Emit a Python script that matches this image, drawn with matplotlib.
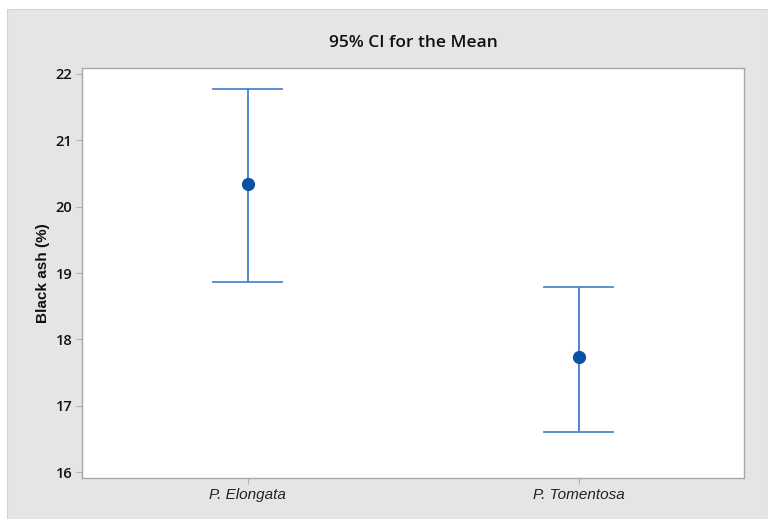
import matplotlib
matplotlib.use("Agg")
import matplotlib.pyplot as plt
from matplotlib.patches import Rectangle

groups = ["P. Elongata", "P. Tomentosa"]
means = [20.34, 17.73]
ci_lower = [18.86, 16.60]
ci_upper = [21.77, 18.79]
y_ticks = [16, 17, 18, 19, 20, 21, 22]

fig = plt.figure(figsize=(7.68, 5.19), dpi=100, facecolor="white")
W, H = 768, 519

# gray panel behind the plot area
fig.patches.append(Rectangle((7 / W, 0), 1 - 7 / W, 1 - 9 / H, transform=fig.transFigure,
                             facecolor="#e5e5e5", edgecolor="#d2d2d2", linewidth=0.8, zorder=-10))

ax = fig.add_axes([82 / W, 1 - 478 / H, (744 - 82) / W, (478 - 68) / H])
ax.set_facecolor("white")

x = list(range(1, len(groups) + 1))
for xi, m, lo, hi in zip(x, means, ci_lower, ci_upper):
    ax.plot([xi, xi], [lo, hi], color="#3d7cc6", lw=1.3, zorder=2)
    for yy in (lo, hi):
        ax.plot([xi - 0.105, xi + 0.105], [yy, yy], color="#4c88cc", lw=1.3, zorder=2)
ax.plot(x, means, "o", color="#0a52a5", markersize=8.5, zorder=3, linestyle="none")

ax.set_xlim(0.5, 2.5)
ax.set_ylim(15.91, 22.09)
ax.set_xticks(x)
ax.set_xticklabels(groups, fontstyle="italic", family="Liberation Sans", fontsize=11, color="#222222")
ax.set_yticks(y_ticks)
ax.set_yticklabels([str(t) for t in y_ticks], family="Open Sans", fontweight="semibold",
                   fontsize=10.5, color="#111111")
ax.tick_params(axis="both", length=4, width=0.8, color="#b0b0b0", pad=3)

for s in ax.spines.values():
    s.set_color("#a8a8a8")
    s.set_linewidth(1.0)

ax.set_ylabel("Black ash (%)", family="Liberation Sans", fontweight="bold", fontsize=11,
              color="#111111", labelpad=4)
fig.text(0.5 * (82 + 744) / W, 1 - 43 / H, "95% CI for the Mean", ha="center", va="center",
         family="Open Sans", fontweight="semibold", fontsize=12.5, color="#111111")

fig.savefig("out.png", dpi=100, facecolor=fig.get_facecolor())
